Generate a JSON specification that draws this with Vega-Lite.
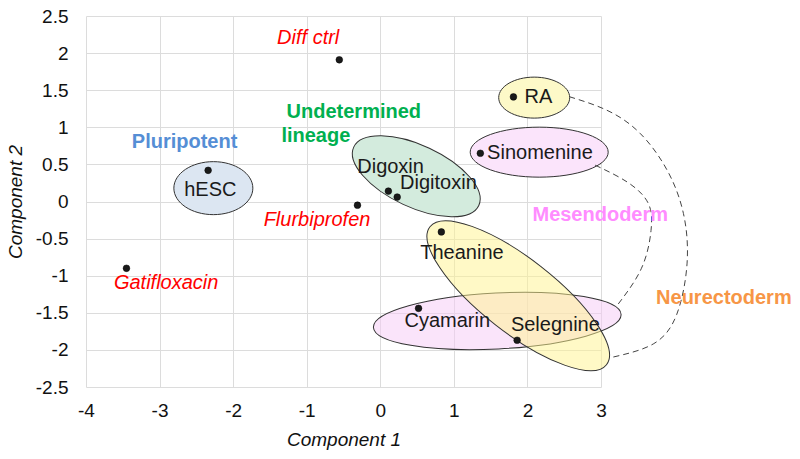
{
  "$schema": "https://vega.github.io/schema/vega-lite/v6.json",
  "width": 515,
  "height": 371,
  "autosize": {"type": "none"},
  "padding": {"left": 86, "top": 16, "right": 199, "bottom": 72},
  "config": {
    "font": "Liberation Sans",
    "view": {"stroke": null},
    "axis": {
      "grid": true, "gridColor": "#DCDCDC", "gridWidth": 1,
      "domain": false, "ticks": false, "labelOverlap": false, "labelFlush": false,
      "labelFont": "Liberation Sans", "labelFontSize": 19, "labelColor": "#111",
      "titleFont": "Liberation Sans", "titleFontSize": 19, "titleFontStyle": "italic",
      "titleFontWeight": "normal", "titleColor": "#111"
    }
  },
  "datasets": {
    "clusters": [
      {"cluster": "hESC", "cx": -2.269, "cy": 0.18},
      {"cluster": "Undetermined", "cx": 0.489, "cy": 0.34},
      {"cluster": "RA", "cx": 2.092, "cy": 1.40},
      {"cluster": "Sinomenine", "cx": 2.160, "cy": 0.665},
      {"cluster": "Cyamarin", "cx": 1.590, "cy": -1.61},
      {"cluster": "Theanine", "cx": 1.875, "cy": -1.27}
    ],
    "samples": [
      {"name": "Diff ctrl", "c1": -0.557, "c2": 1.91},
      {"name": "hESC", "c1": -2.34, "c2": 0.42},
      {"name": "Flurbiprofen", "c1": -0.31, "c2": -0.05},
      {"name": "Digoxin", "c1": 0.11, "c2": 0.14},
      {"name": "Digitoxin", "c1": 0.23, "c2": 0.06},
      {"name": "RA", "c1": 1.81, "c2": 1.41},
      {"name": "Sinomenine", "c1": 1.36, "c2": 0.65},
      {"name": "Theanine", "c1": 0.83, "c2": -0.41},
      {"name": "Cyamarin", "c1": 0.52, "c2": -1.44},
      {"name": "Selegnine", "c1": 1.86, "c2": -1.87},
      {"name": "Gatifloxacin", "c1": -3.45, "c2": -0.90}
    ],
    "links": [
      {"curve": "outer", "order": 1, "x": 2.568, "y": 1.413},
      {"curve": "outer", "order": 2, "x": 3.08, "y": 1.23},
      {"curve": "outer", "order": 3, "x": 3.53, "y": 0.92},
      {"curve": "outer", "order": 4, "x": 3.90, "y": 0.42},
      {"curve": "outer", "order": 5, "x": 4.12, "y": -0.16},
      {"curve": "outer", "order": 6, "x": 4.17, "y": -0.83},
      {"curve": "outer", "order": 7, "x": 4.03, "y": -1.52},
      {"curve": "outer", "order": 8, "x": 3.71, "y": -1.92},
      {"curve": "outer", "order": 9, "x": 3.15, "y": -2.10},
      {"curve": "inner", "order": 1, "x": 2.92, "y": 0.49},
      {"curve": "inner", "order": 2, "x": 3.36, "y": 0.26},
      {"curve": "inner", "order": 3, "x": 3.64, "y": -0.02},
      {"curve": "inner", "order": 4, "x": 3.68, "y": -0.39},
      {"curve": "inner", "order": 5, "x": 3.55, "y": -0.90},
      {"curve": "inner", "order": 6, "x": 3.22, "y": -1.40}
    ],
    "labels": [
      {"label": "hESC", "x": -2.31, "y": 0.155, "kind": "name"},
      {"label": "Digoxin", "x": 0.14, "y": 0.465, "kind": "name"},
      {"label": "Digitoxin", "x": 0.79, "y": 0.25, "kind": "name"},
      {"label": "RA", "x": 2.15, "y": 1.41, "kind": "name"},
      {"label": "Sinomenine", "x": 2.17, "y": 0.655, "kind": "name"},
      {"label": "Theanine", "x": 1.11, "y": -0.69, "kind": "name"},
      {"label": "Cyamarin", "x": 0.91, "y": -1.61, "kind": "name"},
      {"label": "Selegnine", "x": 2.38, "y": -1.66, "kind": "name"},
      {"label": "Diff ctrl", "x": -0.98, "y": 2.21, "kind": "control"},
      {"label": "Flurbiprofen", "x": -0.86, "y": -0.25, "kind": "control"},
      {"label": "Gatifloxacin", "x": -2.91, "y": -1.10, "kind": "control"},
      {"label": "Pluripotent", "x": -2.66, "y": 0.80, "kind": "Pluripotent"},
      {"label": "Undetermined", "x": -0.36, "y": 1.21, "kind": "Undetermined"},
      {"label": "lineage", "x": -0.876, "y": 0.88, "kind": "Undetermined"},
      {"label": "Mesendoderm", "x": 2.99, "y": -0.18, "kind": "Mesendoderm"},
      {"label": "Neurectoderm", "x": 4.67, "y": -1.30, "kind": "Neurectoderm"}
    ]
  },
  "layer": [
    {
      "data": {"name": "clusters"},
      "transform": [{"filter": "datum.cluster === 'hESC'"}],
      "mark": {"type": "point", "filled": true, "opacity": 1, "size": 4,
        "shape": "M -39.5 0 A 39.5 26.5 0 1 1 39.5 0 A 39.5 26.5 0 1 1 -39.5 0 Z",
        "fill": "#DCE6F2", "fillOpacity": 1, "stroke": "#333333", "strokeWidth": 1},
      "encoding": {
        "x": {"field": "cx", "type": "quantitative", "scale": {"domain": [-4, 3], "nice": false, "zero": false},
          "axis": {"title": "Component 1", "values": [-4, -3, -2, -1, 0, 1, 2, 3], "tickCount": 20, "labelExpr": "datum.value + ''", "labelOverlap": false, "labelPadding": 14, "titlePadding": 10}},
        "y": {"field": "cy", "type": "quantitative", "scale": {"domain": [-2.5, 2.5], "nice": false, "zero": false},
          "axis": {"title": "Component 2", "values": [-2.5, -2, -1.5, -1, -0.5, 0, 0.5, 1, 1.5, 2, 2.5], "tickCount": 20, "labelExpr": "datum.value + ''", "labelOverlap": false, "labelPadding": 18, "titlePadding": 10}}
      }
    },
    {
      "data": {"name": "clusters"},
      "transform": [{"filter": "datum.cluster === 'Undetermined'"}],
      "mark": {"type": "point", "filled": true, "opacity": 1, "size": 4, "angle": 25,
        "shape": "M -69 0 A 69 31 0 1 1 69 0 A 69 31 0 1 1 -69 0 Z",
        "fill": "#D3EBDD", "fillOpacity": 1, "stroke": "#333333", "strokeWidth": 1},
      "encoding": {"x": {"field": "cx", "type": "quantitative"}, "y": {"field": "cy", "type": "quantitative"}}
    },
    {
      "data": {"name": "clusters"},
      "transform": [{"filter": "datum.cluster === 'RA'"}],
      "mark": {"type": "point", "filled": true, "opacity": 1, "size": 4,
        "shape": "M -35.5 0 A 35.5 20.5 0 1 1 35.5 0 A 35.5 20.5 0 1 1 -35.5 0 Z",
        "fill": "#FDF9C8", "fillOpacity": 1, "stroke": "#333333", "strokeWidth": 1},
      "encoding": {"x": {"field": "cx", "type": "quantitative"}, "y": {"field": "cy", "type": "quantitative"}}
    },
    {
      "data": {"name": "clusters"},
      "transform": [{"filter": "datum.cluster === 'Sinomenine'"}],
      "mark": {"type": "point", "filled": true, "opacity": 1, "size": 4,
        "shape": "M -69 0 A 69 25 0 1 1 69 0 A 69 25 0 1 1 -69 0 Z",
        "fill": "#FBE4FB", "fillOpacity": 1, "stroke": "#333333", "strokeWidth": 1},
      "encoding": {"x": {"field": "cx", "type": "quantitative"}, "y": {"field": "cy", "type": "quantitative"}}
    },
    {
      "data": {"name": "clusters"},
      "transform": [{"filter": "datum.cluster === 'Cyamarin'"}],
      "mark": {"type": "point", "filled": true, "opacity": 1, "size": 4, "angle": -3,
        "shape": "M -124 0 A 124 28 0 1 1 124 0 A 124 28 0 1 1 -124 0 Z",
        "fill": "#F6C9F6", "fillOpacity": 0.5, "stroke": "#333333", "strokeWidth": 1},
      "encoding": {"x": {"field": "cx", "type": "quantitative"}, "y": {"field": "cy", "type": "quantitative"}}
    },
    {
      "data": {"name": "clusters"},
      "transform": [{"filter": "datum.cluster === 'Theanine'"}],
      "mark": {"type": "point", "filled": true, "opacity": 1, "size": 4, "angle": 38,
        "shape": "M -112 0 A 112 37 0 1 1 112 0 A 112 37 0 1 1 -112 0 Z",
        "fill": "#FFF48E", "fillOpacity": 0.5, "stroke": "#333333", "strokeWidth": 1},
      "encoding": {"x": {"field": "cx", "type": "quantitative"}, "y": {"field": "cy", "type": "quantitative"}}
    },
    {
      "data": {"name": "links"},
      "mark": {"type": "line", "interpolate": "natural", "stroke": "#444444", "strokeWidth": 1, "strokeDash": [6, 4]},
      "encoding": {
        "x": {"field": "x", "type": "quantitative"},
        "y": {"field": "y", "type": "quantitative"},
        "detail": {"field": "curve"},
        "order": {"field": "order", "type": "quantitative"}
      }
    },
    {
      "data": {"name": "samples"},
      "mark": {"type": "point", "filled": true, "opacity": 1, "size": 45, "shape": "circle", "fill": "#1a1a1a", "stroke": "#000000", "strokeWidth": 0.5},
      "encoding": {"x": {"field": "c1", "type": "quantitative"}, "y": {"field": "c2", "type": "quantitative"}}
    },
    {
      "data": {"name": "labels"},
      "transform": [{"filter": "datum.kind === 'name'"}],
      "mark": {"type": "text", "fontSize": 20, "align": "center", "baseline": "middle", "color": "#1a1a1a"},
      "encoding": {"x": {"field": "x", "type": "quantitative"}, "y": {"field": "y", "type": "quantitative"}, "text": {"field": "label"}}
    },
    {
      "data": {"name": "labels"},
      "transform": [{"filter": "datum.kind === 'control'"}],
      "mark": {"type": "text", "fontSize": 20, "fontStyle": "italic", "align": "center", "baseline": "middle", "color": "#FF0000"},
      "encoding": {"x": {"field": "x", "type": "quantitative"}, "y": {"field": "y", "type": "quantitative"}, "text": {"field": "label"}}
    },
    {
      "data": {"name": "labels"},
      "transform": [{"filter": "datum.kind !== 'name' && datum.kind !== 'control'"}],
      "mark": {"type": "text", "fontSize": 20, "fontWeight": "bold", "align": "center", "baseline": "middle"},
      "encoding": {
        "x": {"field": "x", "type": "quantitative"},
        "y": {"field": "y", "type": "quantitative"},
        "text": {"field": "label"},
        "color": {"field": "kind", "type": "nominal", "legend": null,
          "scale": {"domain": ["Pluripotent", "Undetermined", "Mesendoderm", "Neurectoderm"],
                    "range": ["#558ED5", "#00B050", "#FF8CFF", "#F79646"]}}
      }
    }
  ]
}
